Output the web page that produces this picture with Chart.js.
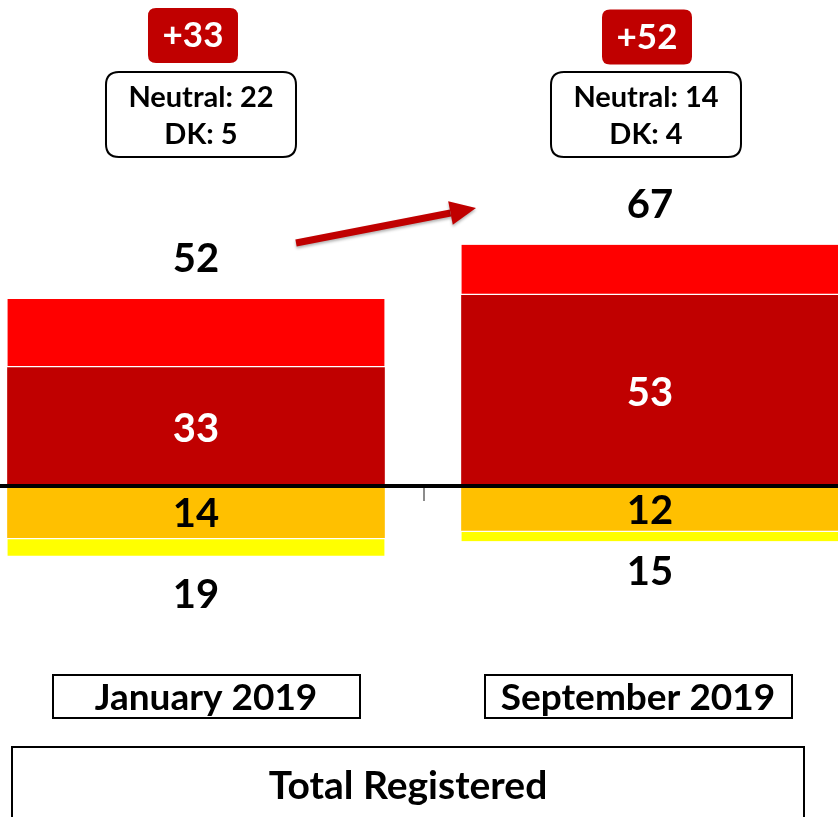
<!DOCTYPE html>
<html>
<head>
<meta charset="utf-8">
<script src="https://cdn.jsdelivr.net/npm/chart.js@4.4.1/dist/chart.umd.min.js"></script>
<style>
  html, body { margin: 0; padding: 0; background: #fff; }
  #wrap { width: 838px; height: 817px; }
</style>
</head>
<body>
<div id="wrap"><canvas id="chart" width="838" height="817"></canvas></div>
<script>
// values
const categories = ['January 2019', 'September 2019'];
const strongFor = [33, 53];
const somewhatFor = [19, 14];
const somewhatAgainst = [-14, -12];
const strongAgainst = [-5, -3];
const neutral = [22, 14];
const dontKnow = [5, 4];
const netScore = ['+33', '+52'];
const footerLabel = 'Total Registered';

const FONT = 'Lato, "Open Sans", sans-serif';

const toPoints = arr => arr.map((v, i) => ({ x: i, y: v }));

const rrect = (ctx, x, y, w, h, r) => {
    ctx.beginPath();
    ctx.moveTo(x + r, y);
    ctx.lineTo(x + w - r, y);
    ctx.quadraticCurveTo(x + w, y, x + w, y + r);
    ctx.lineTo(x + w, y + h - r);
    ctx.quadraticCurveTo(x + w, y + h, x + w - r, y + h);
    ctx.lineTo(x + r, y + h);
    ctx.quadraticCurveTo(x, y + h, x, y + h - r);
    ctx.lineTo(x, y + r);
    ctx.quadraticCurveTo(x, y, x + r, y);
    ctx.closePath();
};

// small layout nudges so the boxes sit where they do in the original slide
const belowGap = [39, 31];
const boxShift = [5, -4];

const overlay = {
    id: 'overlay',
    afterDatasetsDraw(chart) {
        const ctx = chart.ctx;
        const xs = chart.scales.x, ys = chart.scales.y;
        const y0 = ys.getPixelForValue(0);
        ctx.save();

        // small gray tick between the bars
        ctx.strokeStyle = '#8c8c8c';
        ctx.lineWidth = 2;
        ctx.beginPath();
        ctx.moveTo(424, y0);
        ctx.lineTo(424, y0 + 14);
        ctx.stroke();

        // zero line
        ctx.strokeStyle = '#000';
        ctx.lineWidth = 4;
        ctx.beginPath();
        ctx.moveTo(0, y0 - 1);
        ctx.lineTo(chart.width, y0 - 1);
        ctx.stroke();

        ctx.textAlign = 'center';
        ctx.textBaseline = 'middle';

        categories.forEach((cat, i) => {
            const cx = xs.getPixelForValue(i);
            const posTotal = strongFor[i] + somewhatFor[i];
            const negTotal = -(somewhatAgainst[i] + strongAgainst[i]);

            ctx.font = 'bold 40px ' + FONT;
            ctx.fillStyle = '#000';
            ctx.fillText(String(posTotal), cx, ys.getPixelForValue(posTotal) - 40);
            ctx.fillText(String(negTotal), cx, ys.getPixelForValue(-negTotal) + belowGap[i]);

            ctx.fillStyle = '#fff';
            ctx.fillText(String(strongFor[i]), cx, ys.getPixelForValue(strongFor[i] / 2) + 2);
            ctx.fillStyle = '#000';
            ctx.fillText(String(-somewhatAgainst[i]), cx, ys.getPixelForValue(somewhatAgainst[i] / 2) + 2);

            // net score box
            const nx = cx - 3;
            ctx.fillStyle = '#c00000';
            rrect(ctx, nx - 45, 8 + i * 1.5, 90, 55, 8);
            ctx.fill();
            ctx.fillStyle = '#fff';
            ctx.font = 'bold 35px ' + FONT;
            ctx.fillText(netScore[i], nx, 36 + i * 1.5);

            // neutral / DK box
            const bx = cx + boxShift[i];
            rrect(ctx, bx - 95, 72, 190, 85, 13);
            ctx.fillStyle = '#fff';
            ctx.fill();
            ctx.strokeStyle = '#000';
            ctx.lineWidth = 2;
            ctx.stroke();
            ctx.fillStyle = '#000';
            ctx.font = 'bold 29px ' + FONT;
            ctx.fillText('Neutral: ' + neutral[i], bx, 98);
            ctx.fillText('DK: ' + dontKnow[i], bx, 135);

            // category label box
            const lx = i === 0 ? 206 : 638;
            ctx.lineWidth = 2;
            ctx.strokeRect(lx - 153, 675, 307, 43);
            ctx.font = 'bold 37px ' + FONT;
            ctx.fillText(cat, lx, 698);
        });

        // arrow
        ctx.strokeStyle = '#c00000';
        ctx.fillStyle = '#c00000';
        ctx.lineWidth = 7;
        ctx.shadowColor = 'rgba(0,0,0,0.3)';
        ctx.shadowBlur = 3;
        ctx.shadowOffsetY = 2;
        const ax0 = 296, ay0 = 243, ax1 = 476, ay1 = 208;
        const ang = Math.atan2(ay1 - ay0, ax1 - ax0);
        const hl = 26, hw = 12;
        const bxp = ax1 - hl * Math.cos(ang), byp = ay1 - hl * Math.sin(ang);
        ctx.beginPath();
        ctx.moveTo(ax0, ay0);
        ctx.lineTo(bxp, byp);
        ctx.stroke();
        ctx.beginPath();
        ctx.moveTo(ax1, ay1);
        ctx.lineTo(bxp + hw * Math.sin(ang), byp - hw * Math.cos(ang));
        ctx.lineTo(bxp - hw * Math.sin(ang), byp + hw * Math.cos(ang));
        ctx.closePath();
        ctx.fill();
        ctx.shadowColor = 'transparent';

        // footer box
        ctx.strokeStyle = '#000';
        ctx.lineWidth = 2;
        ctx.strokeRect(12, 747, 792, 90);
        ctx.fillStyle = '#000';
        ctx.font = 'bold 39px ' + FONT;
        ctx.fillText(footerLabel, 408, 786);

        ctx.restore();
    }
};

const ctx = document.getElementById('chart').getContext('2d');
new Chart(ctx, {
    type: 'bar',
    data: {
        datasets: [
            { label: 'Strong support', data: toPoints(strongFor), backgroundColor: '#c00000',
              borderWidth: 0 },
            { label: 'Somewhat support', data: toPoints(somewhatFor), backgroundColor: '#ff0000',
              borderColor: '#fff', borderWidth: { bottom: 2 }, borderSkipped: false },
            { label: 'Somewhat oppose', data: toPoints(somewhatAgainst), backgroundColor: '#ffc000',
              borderWidth: 0 },
            { label: 'Strong oppose', data: toPoints(strongAgainst), backgroundColor: '#ffff00',
              borderColor: '#fff', borderWidth: { top: 2 }, borderSkipped: false }
        ]
    },
    options: {
        responsive: false,
        animation: false,
        barThickness: 377,
        layout: { padding: 0 },
        plugins: { legend: { display: false }, tooltip: { enabled: false } },
        scales: {
            x: { type: 'linear', display: false, stacked: true, offset: false, min: -0.4317, max: 1.4141 },
            y: { display: false, stacked: true, min: -91.3, max: 134.7 }
        }
    },
    plugins: [overlay]
});
</script>
</body>
</html>
